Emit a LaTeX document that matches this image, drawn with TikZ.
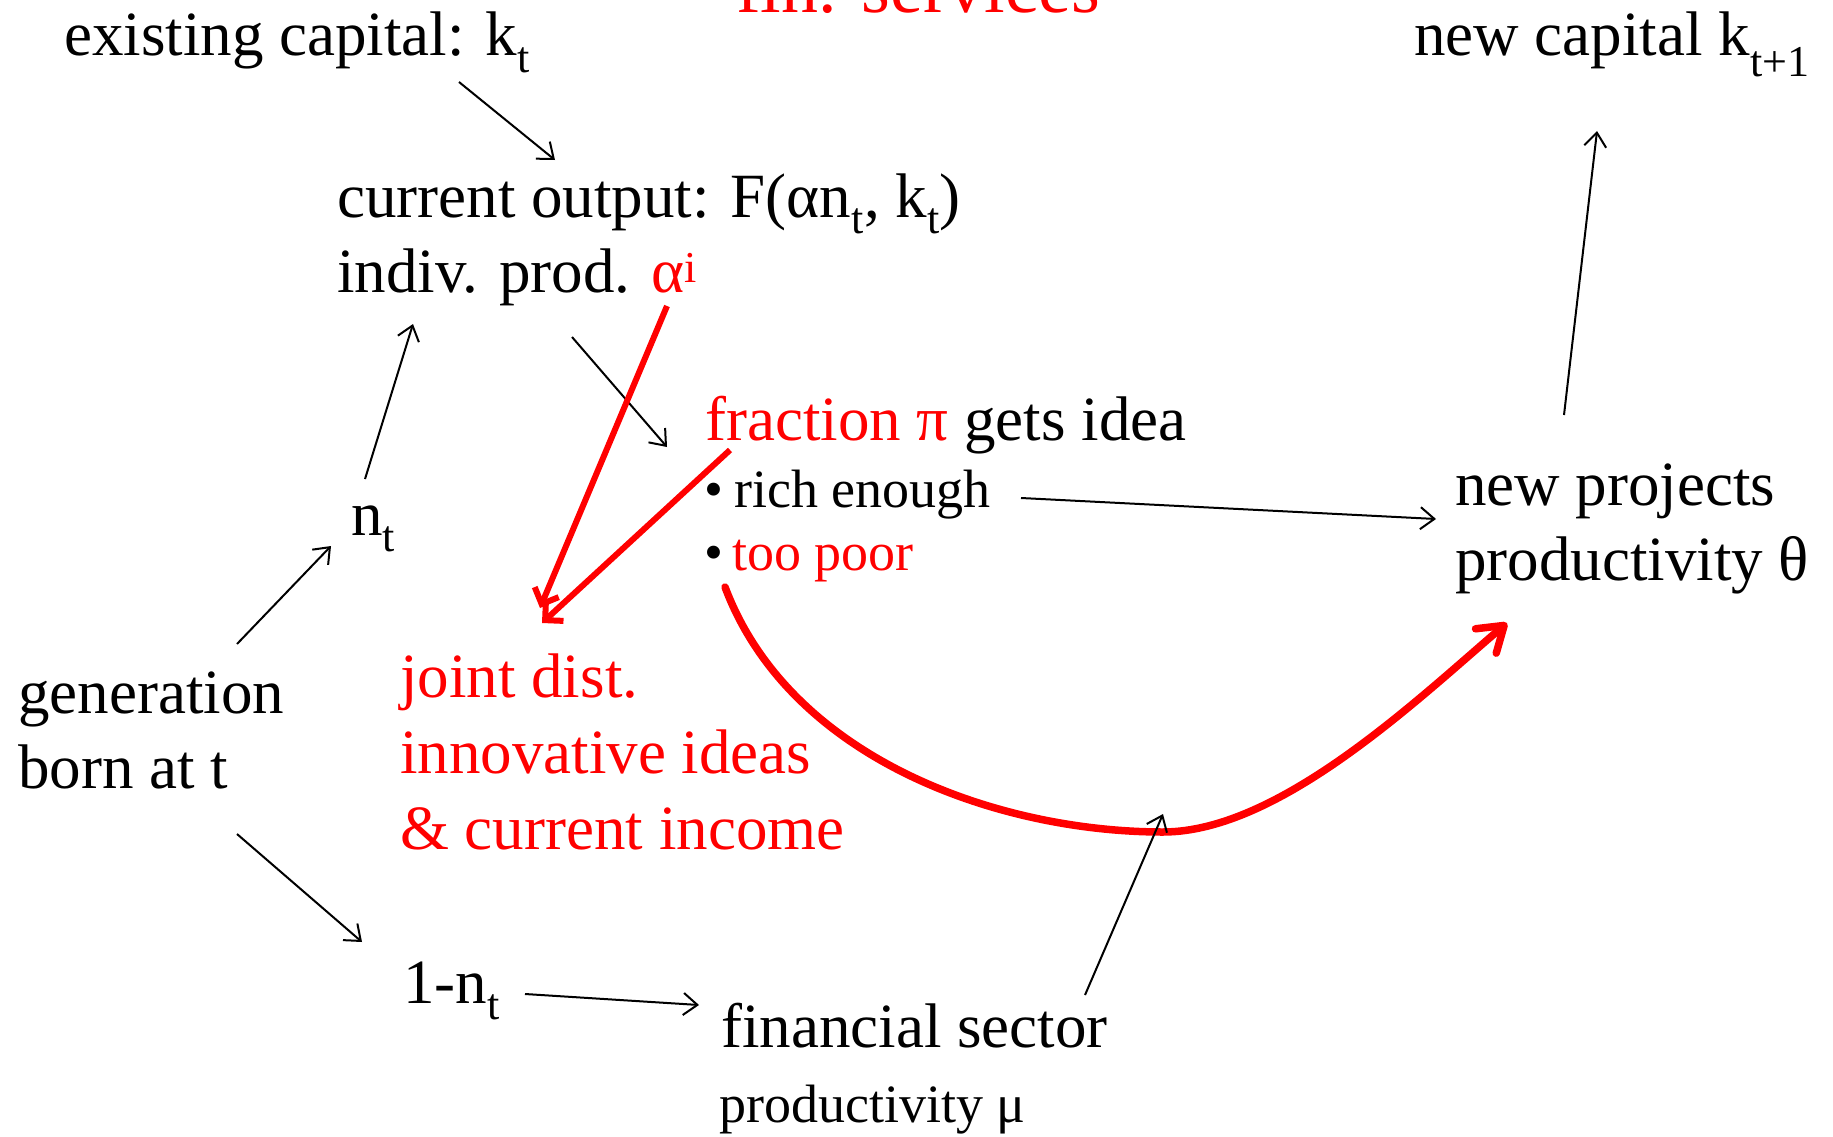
\documentclass[tikz,border=0pt]{standalone}
\usepackage{fontspec}
\setmainfont{Liberation Serif}
\usetikzlibrary{arrows.meta}
\begin{document}
\begin{tikzpicture}[x=1pt,y=-1pt,
  txt/.style={anchor=base west,inner sep=0pt,font=\fontsize{63}{76}\selectfont},
  sml/.style={anchor=base west,inner sep=0pt,font=\fontsize{54}{65}\selectfont},
  arr/.style={line width=2pt,-{Straight Barb[length=14pt,width=22pt]}},
  rarr/.style={draw=red,line width=6pt,-{Straight Barb[length=13pt,width=26pt]}},
  rcurve/.style={draw=red,line width=7.5pt,line cap=round,-{Straight Barb[length=24pt,width=32pt,round]}}]
\path[use as bounding box, fill=white] (0,0) rectangle (1833,1137);
% texts
\node[txt, font=\fontsize{74}{89}\selectfont, text=red] (title) at (736,13) {fin. services};
\node[txt] (exist) at (64,56) {existing capital: k\textsubscript{t}};
\node[txt] (cur) at (337,217) {current output: F(αn\textsubscript{t}, k\textsubscript{t})};
\node[txt] (ind) at (337,292) {indiv. prod. {\color{red}α\textsuperscript{i}}};
\node[txt] (frac) at (705,440) {{\color{red}fraction π} gets idea};
\node[sml] (rich) at (704,507) {•\hspace{11pt}rich enough};
\node[sml] (poor) at (704,570) {•\hspace{9pt}{\color{red}too poor}};
\node[txt] (newproj) at (1455,505) {new projects};
\node[txt] (prodth) at (1455,580) {productivity θ};
\node[txt] (newcap) at (1414,56) {new capital k\textsubscript{t+1}};
\node[txt] (nt) at (351,535) {n\textsubscript{t}};
\node[txt] (gen1) at (18,713) {generation};
\node[txt] (gen2) at (18,788) {born at t};
\node[txt, text=red] (joint1) at (400,697) {joint dist.};
\node[txt, text=red] (joint2) at (400,773) {innovative ideas};
\node[txt, text=red] (joint3) at (400,849) {\& current income};
\node[txt] (onent) at (403,1003) {1-n\textsubscript{t}};
\node[txt] (fin1) at (721,1047) {financial sector};
\node[sml] (fin2) at (719,1122) {productivity μ};
% black arrows
\draw[arr] ([shift={(395,26)}]exist.base west) -- ([shift={(218,-57)}]cur.base west);
\draw[arr] ([shift={(14,-56)}]nt.base west) -- ([shift={(76,32)}]ind.base west);
\draw[arr] ([shift={(219,-69)}]gen1.base west) -- ([shift={(-20,11)}]nt.base west);
\draw[arr] ([shift={(219,46)}]gen2.base west) -- ([shift={(-41,-61)}]onent.base west);
\draw[arr] ([shift={(235,45)}]ind.base west) -- ([shift={(-38,7)}]frac.base west);
\draw[arr] ([shift={(122,-9)}]onent.base west) -- ([shift={(-22,-42)}]fin1.base west);
\draw[arr] ([shift={(317,-9)}]rich.base west) -- ([shift={(-19,14)}]newproj.base west);
\draw[arr] ([shift={(109,-90)}]newproj.base west) -- ([shift={(183,75)}]newcap.base west);
% red arrows
\draw[rarr] ([shift={(330,14)}]ind.base west) -- ([shift={(140,-89)}]joint1.base west);
\draw[rarr] ([shift={(25,10)}]frac.base west) -- ([shift={(142,-74)}]joint1.base west);
% red curve
\coordinate (cmin) at (1163,832);
\draw[rcurve] ([shift={(21,17)}]poor.base west) .. controls (790,760) and (1000,832) .. (cmin)
   .. controls (1280,832) and (1420,697) .. ([shift={(52,43)}]prodth.base west);
\draw[arr] ([shift={(364,-52)}]fin1.base west) -- ([yshift=18]cmin);
\end{tikzpicture}
\end{document}
